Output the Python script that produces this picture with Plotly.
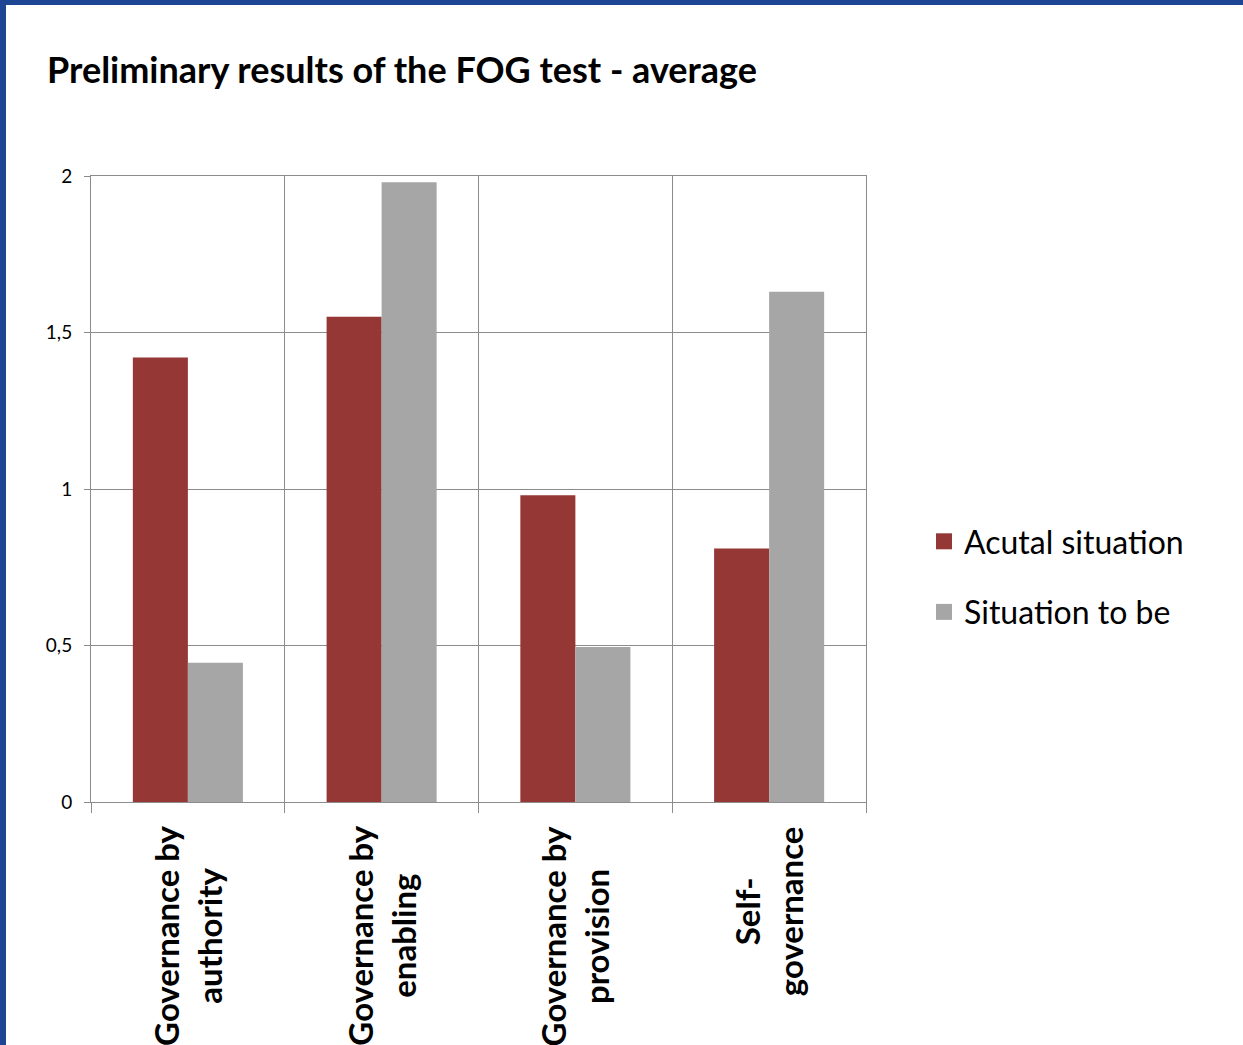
import plotly.graph_objects as go

categories = ["Governance by<br>authority", "Governance by<br>enabling",
              "Governance by<br>provision", "Self-<br>governance"]
actual = [1.42, 1.55, 0.98, 0.81]
to_be = [0.445, 1.98, 0.495, 1.63]
series_names = ["Acutal situation", "Situation to be"]
y_tickvals = [0, 0.5, 1, 1.5, 2]
y_ticktext = ["0", "0,5", "1", "1,5", "2"]
title_text = "Preliminary results of the FOG test - average"

RED = "#953735"
GRAY = "#A6A6A6"
AXIS = "#8C8C8C"
BLUE = "#1E4494"
FONT = "Lato"

W, H = 1243, 1045
L, R, T, B = 91, 866, 176, 802
pw, ph = R - L, B - T

def px_x(p):
    return (p - L) / pw

def px_y(p):
    return (B - p) / ph

fig = go.Figure()
fig.add_trace(go.Bar(x=categories, y=actual, name=series_names[0], showlegend=False,
                     marker=dict(color=RED, line=dict(width=0))))
fig.add_trace(go.Bar(x=categories, y=to_be, name=series_names[1], showlegend=False,
                     marker=dict(color=GRAY, line=dict(width=0))))
# legend entries with larger square swatches
for nm, col, grp in [(series_names[0], RED, "a"), (series_names[1], GRAY, "b")]:
    fig.add_trace(go.Scatter(x=[None], y=[None], mode="markers", name=nm, legendgroup=grp,
                             marker=dict(symbol="square", size=22, color=col)))

shapes = [
    dict(type="rect", xref="paper", yref="paper", x0=px_x(0), x1=px_x(6),
         y0=px_y(H), y1=px_y(0), fillcolor=BLUE, line=dict(width=0), layer="above"),
    dict(type="rect", xref="paper", yref="paper", x0=px_x(0), x1=px_x(W),
         y0=px_y(5), y1=px_y(0), fillcolor=BLUE, line=dict(width=0), layer="above"),
]

annotations = [
    dict(x=c, y=px_y(824), xref="x", yref="paper", text="<b>" + c + "</b>",
         textangle=-90, showarrow=False, xanchor="center", yanchor="top", align="center",
         font=dict(size=33, family=FONT, color="black"))
    for c in categories
]

fig.update_layout(
    width=W, height=H,
    margin=dict(l=L, r=W - R, t=T, b=H - B, autoexpand=False),
    paper_bgcolor="white", plot_bgcolor="white",
    barmode="group", bargap=0.432, bargroupgap=0,
    font=dict(family=FONT, color="black"),
    title=dict(text="<b>" + title_text + "</b>", x=47 / W, xref="container", xanchor="left",
               y=1 - 70 / H, yref="container", yanchor="middle",
               font=dict(size=36, family=FONT, color="black")),
    legend=dict(x=px_x(924), y=px_y(577), xanchor="left", yanchor="middle",
                font=dict(size=32, family=FONT), tracegroupgap=26,
                bgcolor="rgba(0,0,0,0)", itemwidth=30),
    shapes=shapes,
    annotations=annotations,
    xaxis=dict(type="category", tickson="boundaries", showgrid=True, gridcolor=AXIS,
               gridwidth=1, showline=True, linecolor=AXIS, linewidth=1, mirror=True,
               ticks="outside", ticklen=10, tickcolor=AXIS, showticklabels=False,
               automargin=False),
    yaxis=dict(range=[0, 2], tickvals=y_tickvals, ticktext=y_ticktext, showgrid=True,
               gridcolor=AXIS, gridwidth=1, showline=True, linecolor=AXIS, linewidth=1,
               mirror=True, ticks="outside", ticklen=6, tickcolor=AXIS,
               ticklabelstandoff=8,
               tickfont=dict(size=19, family=FONT, color="black"), zeroline=False,
               automargin=False),
)

fig.write_html("out.html", config={"displayModeBar": False},
               post_script="document.body.style.margin='0';document.body.style.overflow='hidden';")
